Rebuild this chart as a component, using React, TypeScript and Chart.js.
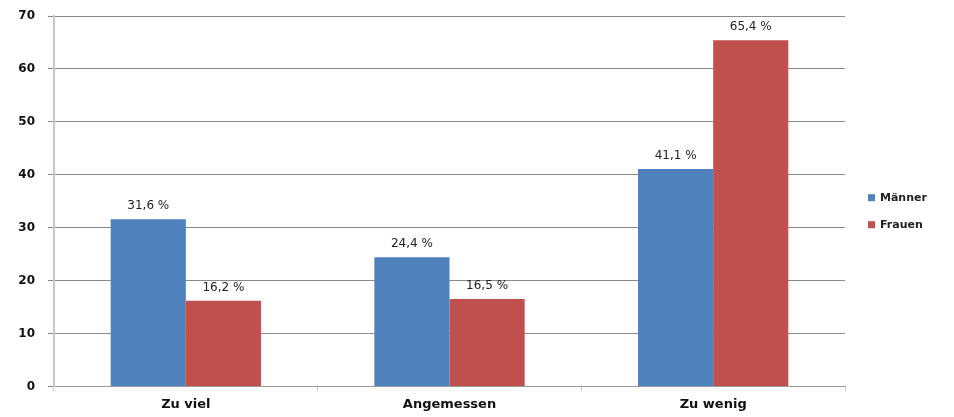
import React, { useEffect, useRef } from "react";
import { Chart, registerables } from "chart.js";
Chart.register(...registerables);

const categories = ["Zu viel", "Angemessen", "Zu wenig"];
const seriesNames = ["Männer", "Frauen"];
const maenner = [31.6, 24.4, 41.1];
const frauen = [16.2, 16.5, 65.4];
const colors = ["#4F81BD", "#C0504D"];
const yTicks = [0, 10, 20, 30, 40, 50, 60, 70];

const FONT = "'DejaVu Sans', sans-serif";

const valueLabels = {
  id: "valueLabels",
  afterDatasetsDraw(chart: any) {
    const ctx = chart.ctx;
    ctx.save();
    ctx.font = `12px ${FONT}`;
    ctx.fillStyle = "#222";
    ctx.textAlign = "center";
    ctx.textBaseline = "middle";
    chart.data.datasets.forEach((ds: any, i: number) => {
      const meta = chart.getDatasetMeta(i);
      meta.data.forEach((el: any, j: number) => {
        const v = ds.data[j];
        ctx.fillText(v.toFixed(1).replace(".", ",") + " %", el.x, el.y - 13);
      });
    });
    ctx.restore();
  },
};

const sideLegend = {
  id: "sideLegend",
  afterDraw(chart: any) {
    const ctx = chart.ctx;
    const area = chart.chartArea;
    ctx.save();
    ctx.font = `bold 11px ${FONT}`;
    ctx.textAlign = "left";
    ctx.textBaseline = "middle";
    const x = area.right + 23;
    const yMid = (area.top + area.bottom) / 2;
    const spacing = 27;
    const n = chart.data.datasets.length;
    chart.data.datasets.forEach((ds: any, i: number) => {
      const y = yMid + (i - (n - 1) / 2) * spacing + 10;
      ctx.fillStyle = ds.backgroundColor;
      ctx.fillRect(x, y - 3.5, 7, 7);
      ctx.fillStyle = "#222";
      ctx.fillText(ds.label, x + 12, y);
    });
    ctx.restore();
  },
};

export default function App() {
  const ref = useRef<HTMLCanvasElement>(null);
  useEffect(() => {
    document.body.style.margin = "0";
    const chart = new Chart(ref.current!, {
      type: "bar",
      data: {
        labels: categories,
        datasets: [
          { label: seriesNames[0], data: maenner, backgroundColor: colors[0], categoryPercentage: 0.57, barPercentage: 1 },
          { label: seriesNames[1], data: frauen, backgroundColor: colors[1], categoryPercentage: 0.57, barPercentage: 1 },
        ],
      },
      options: {
        animation: false,
        responsive: false,
        maintainAspectRatio: false,
        layout: { padding: { top: 16, right: 109, bottom: 0, left: 0 } },
        plugins: {
          tooltip: { enabled: false },
          legend: { display: false },
        },
        scales: {
          x: {
            grid: { display: true, drawOnChartArea: false, drawTicks: true, offset: true, tickLength: 5, color: "#ccc" },
            border: { color: "#999", width: 1 },
            ticks: { color: "#111", padding: 5, font: { family: FONT, size: 13, weight: "bold" } },
          },
          y: {
            min: 0,
            max: 70,
            afterBuildTicks: (axis: any) => {
              axis.ticks = yTicks.map((v) => ({ value: v }));
            },
            afterFit: (axis: any) => {
              axis.width = 54;
              axis.paddingTop = 0;
              axis.paddingBottom = 0;
            },
            grid: { color: "#8a8a8a", tickLength: 6, lineWidth: 1 },
            border: { color: "#c8c8c8", width: 2 },
            ticks: { color: "#111", padding: 13, font: { family: FONT, size: 12, weight: "bold" } },
          },
        },
      },
      plugins: [valueLabels, sideLegend],
    });
    return () => chart.destroy();
  }, []);
  return (
    <div style={{ width: 954, height: 417 }}>
      <canvas ref={ref} width={954} height={417} />
    </div>
  );
}
